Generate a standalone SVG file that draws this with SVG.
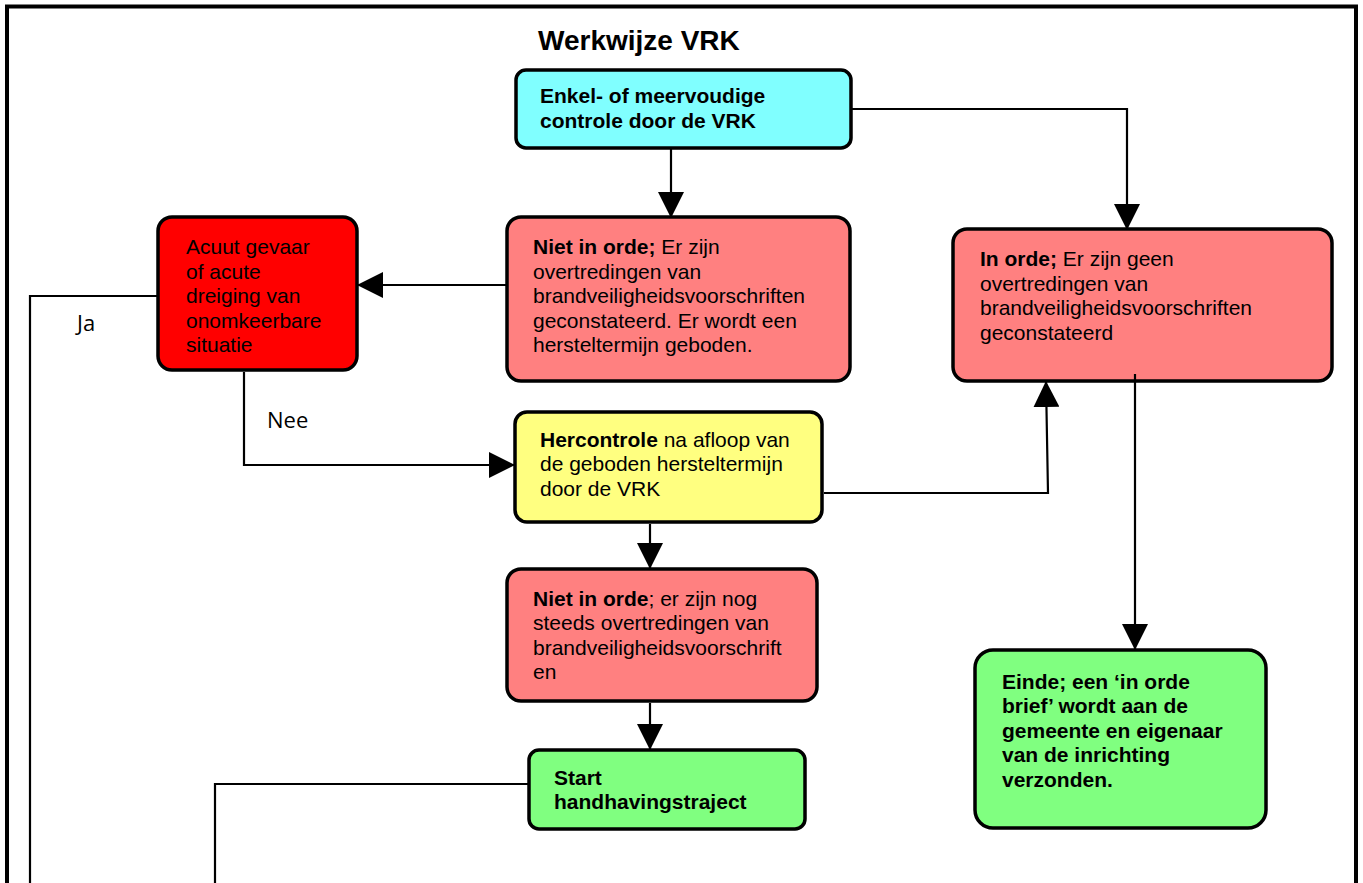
<svg xmlns="http://www.w3.org/2000/svg" width="1363" height="883" viewBox="0 0 1363 883">
<defs>
<marker id="ah" markerUnits="userSpaceOnUse" markerWidth="26" markerHeight="26" viewBox="0 0 26 26" refX="25" refY="13" orient="auto">
<path d="M0,0 L26,13 L0,26 z" fill="#000"/>
</marker>
</defs>
<style>
.box{stroke:#000;stroke-width:3.5}
.t{font-family:"Liberation Sans",Arial,sans-serif;font-size:21px;fill:#000}
.b{font-weight:bold}
.lbl{font-family:"Open Sans","Liberation Sans",sans-serif;font-size:22px;fill:#000}
.c{fill:none;stroke:#000;stroke-width:2.2}
.ca{fill:none;stroke:#000;stroke-width:2.2;marker-end:url(#ah)}
</style>
<rect width="1363" height="883" fill="#fff"/>
<path d="M7,883 V6.5 H1356 V883" fill="none" stroke="#000" stroke-width="4"/>
<text x="538" y="50" class="t b" style="font-size:28px">Werkwijze VRK</text>

<g id="controle">
<rect class="box" x="516" y="70" width="335" height="78" rx="10" fill="#80FFFF"/>
<text class="t b" x="540" y="103">Enkel- of meervoudige</text>
<text class="t b" x="540" y="128">controle door de VRK</text>
</g>

<g id="niet-in-orde">
<rect class="box" x="507" y="217" width="343" height="164" rx="14" fill="#FF8080"/>
<text class="t" x="533" y="254"><tspan class="b">Niet in orde;</tspan> Er zijn</text>
<text class="t" x="533" y="278.5">overtredingen van</text>
<text class="t" x="533" y="303">brandveiligheidsvoorschriften</text>
<text class="t" x="533" y="327.5">geconstateerd. Er wordt een</text>
<text class="t" x="533" y="352">hersteltermijn geboden.</text>
</g>

<g id="in-orde">
<rect class="box" x="953" y="229" width="379" height="152" rx="14" fill="#FF8080"/>
<text class="t" x="980" y="266"><tspan class="b">In orde;</tspan> Er zijn geen</text>
<text class="t" x="980" y="290.5">overtredingen van</text>
<text class="t" x="980" y="315">brandveiligheidsvoorschriften</text>
<text class="t" x="980" y="339.5">geconstateerd</text>
</g>

<g id="acuut">
<rect class="box" x="158" y="217" width="199" height="153" rx="14" fill="#FF0000"/>
<text class="t" x="186" y="254">Acuut gevaar</text>
<text class="t" x="186" y="278.5">of acute</text>
<text class="t" x="186" y="303">dreiging van</text>
<text class="t" x="186" y="327.5">onomkeerbare</text>
<text class="t" x="186" y="352">situatie</text>
</g>

<g id="hercontrole">
<rect class="box" x="515" y="412" width="307" height="110" rx="12" fill="#FFFF80"/>
<text class="t" x="540" y="446.5"><tspan class="b">Hercontrole</tspan> na afloop van</text>
<text class="t" x="540" y="471">de geboden hersteltermijn</text>
<text class="t" x="540" y="495.5">door de VRK</text>
</g>

<g id="niet-in-orde-2">
<rect class="box" x="507" y="569" width="310" height="132" rx="14" fill="#FF8080"/>
<text class="t" x="533" y="605.5"><tspan class="b">Niet in orde</tspan>; er zijn nog</text>
<text class="t" x="533" y="630">steeds overtredingen van</text>
<text class="t" x="533" y="654.5">brandveiligheidsvoorschrift</text>
<text class="t" x="533" y="679">en</text>
</g>

<g id="start">
<rect class="box" x="529" y="750" width="276" height="79" rx="10" fill="#80FF80"/>
<text class="t b" x="554" y="784.5">Start</text>
<text class="t b" x="554" y="809">handhavingstraject</text>
</g>

<g id="einde">
<rect class="box" x="975" y="650" width="291" height="178" rx="18" fill="#80FF80"/>
<text class="t b" x="1002" y="688.5">Einde; een ‘in orde</text>
<text class="t b" x="1002" y="713">brief’ wordt aan de</text>
<text class="t b" x="1002" y="737.5">gemeente en eigenaar</text>
<text class="t b" x="1002" y="762">van de inrichting</text>
<text class="t b" x="1002" y="786.5">verzonden.</text>
</g>

<g id="connectors">
<path class="ca" d="M671,149 V217"/>
<path class="ca" d="M852,109 H1127 V229"/>
<path class="ca" d="M506,285 H358"/>
<path class="c" d="M157,296 H30 V883"/>
<path class="ca" d="M244,372 V465 H514"/>
<path class="ca" d="M824,493 H1048 L1046,382"/>
<path class="ca" d="M1135,374 V649"/>
<path class="ca" d="M650,524 V568"/>
<path class="ca" d="M650,703 V749"/>
<path class="c" d="M528,784 H215 V883"/>
<text x="77" y="331" class="lbl">Ja</text>
<text x="267" y="428" class="lbl">Nee</text>
</g>
</svg>
